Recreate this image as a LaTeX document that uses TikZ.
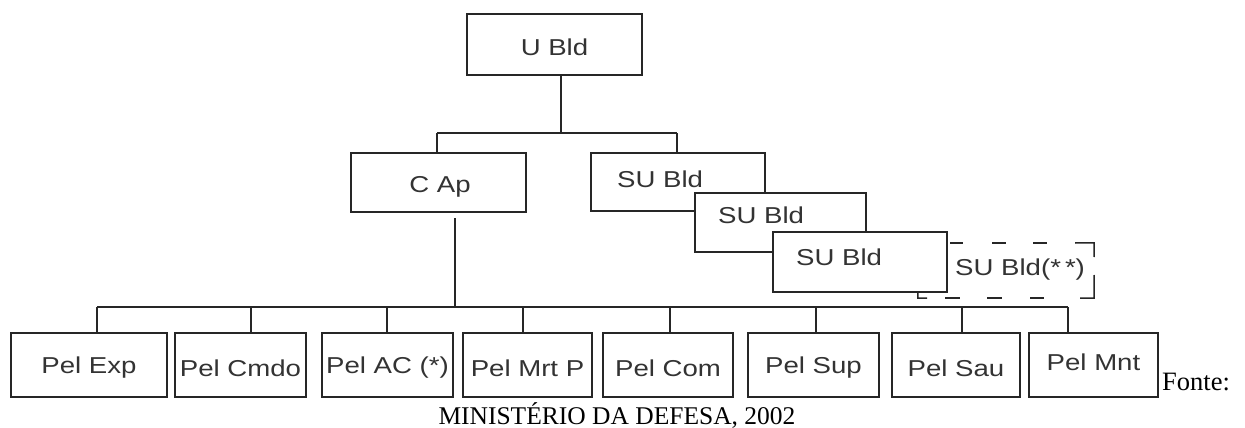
\documentclass[tikz,border=0pt]{standalone}
\usepackage{fontspec}
\setmainfont{Liberation Serif}
\newfontfamily\pixfont[FakeStretch=1.2]{Liberation Sans}
\begin{document}
\begin{tikzpicture}[x=1pt,y=-1pt,
  conn/.style={line width=1.5pt, draw=black!85},
  box/.style={draw=black!85, line width=1.5pt, fill=white, rectangle, inner sep=0pt},
  lbl/.style={font=\pixfont\fontsize{23}{23}\selectfont, text=black!80, inner sep=0pt},
  dbox/.style={fill=white, rectangle, inner sep=0pt},
  dline/.style={line width=1.5pt, draw=black!85},
  captxt/.style={font=\fontsize{25.5}{25.5}\selectfont, inner sep=0pt}]
\useasboundingbox (0,0) rectangle (1245,428);

% top
\node[box, minimum width=175pt, minimum height=61pt] (ubld) at (554.5,44.5) {};
\node[lbl] (ubldt) at (554.5,47) {U Bld};

% second level
\node[box, minimum width=175pt, minimum height=59pt] (capbox) at (438.5,182.5) {};
\node[lbl] (capt) at (440,187) {C Ap};

% dashed (optional) SU, partly behind the third SU box
\node[dbox, minimum width=176pt, minimum height=55pt] (sud) at (1006,270.5) {};
\draw[dline] (1075,243) -- (sud.north east) -- (1094,257);
\draw[dline] (1094,275) -- (sud.south east) -- (1080,298);
\draw[dline] (927,298) -- (sud.south west) -- (918,291);
\foreach \a/\b in {950/963, 992/1006, 1033/1047}{
  \draw[dline] (\a,243) -- (\b,243);
}
\foreach \a/\b in {945/960, 987/1002, 1030/1044}{
  \draw[dline] (\a,298) -- (\b,298);
}
\node[lbl, anchor=west] (sudt) at (955,270) {SU Bld(*\kern4pt*)};

\node[box, minimum width=174pt, minimum height=58pt] (su1) at (678,182) {};
\node[lbl, anchor=west] (su1t) at (617,179) {SU Bld};
\node[box, minimum width=171pt, minimum height=59pt] (su2) at (780.5,222.5) {};
\node[lbl, anchor=west] (su2t) at (718,215) {SU Bld};
\node[box, minimum width=174pt, minimum height=60pt] (su3) at (860,262) {};
\node[lbl, anchor=west] (su3t) at (796,257) {SU Bld};

% connectors level 1
\coordinate (j1) at (561,133);
\coordinate (jl) at (437,133);
\coordinate (jr) at (677,133);
\draw[conn] (ubld.south -| j1) -- (j1);
\draw[conn] (jl) -- (jr);
\draw[conn] (jl) -- (jl |- capbox.north);
\draw[conn] (jr) -- (jr |- su1.north);

% bottom boxes
\foreach \n/\cx/\w in {p1/89/156, p2/240.5/131, p3/387.5/131, p4/527.5/129, p5/668/130, p6/813.5/131, p7/956/128, p8/1093.5/129}{
  \node[box, minimum width=\w pt, minimum height=64pt] (\n) at (\cx,365) {};
}
\node[lbl] (p1t) at (89,368) {Pel Exp};
\node[lbl] (p2t) at (240.5,368) {Pel Cmdo};
\node[lbl] (p3t) at (387.5,368) {Pel AC (*)};
\node[lbl] (p4t) at (527.5,368) {Pel Mrt P};
\node[lbl] (p5t) at (668,368) {Pel Com};
\node[lbl] (p6t) at (813.5,368) {Pel Sup};
\node[lbl] (p7t) at (956,368) {Pel Sau};
\node[lbl] (p8t) at (1093.5,362) {Pel Mnt};

% bottom bus
\coordinate (ct) at (455,218);
\coordinate (cb) at (455,307);
\draw[conn] (ct) -- (cb);
\coordinate (bl) at (97,307);
\coordinate (br) at (1068,307);
\draw[conn] (bl) -- (br);
\foreach \n/\dx in {p1/97, p2/251, p3/387, p4/523, p5/670, p6/816, p7/962, p8/1068}{
  \coordinate (d\n) at (\dx,307);
  \draw[conn] (d\n) -- (d\n |- \n.north);
}

% captions
\node[font=\fontsize{26.5}{26.5}\selectfont, inner sep=0pt, anchor=base west] (fonte) at (1162,390) {Fonte:};
\node[captxt, anchor=base] (mind) at (617,424) {MINISTÉRIO DA DEFESA, 2002};
\end{tikzpicture}
\end{document}
